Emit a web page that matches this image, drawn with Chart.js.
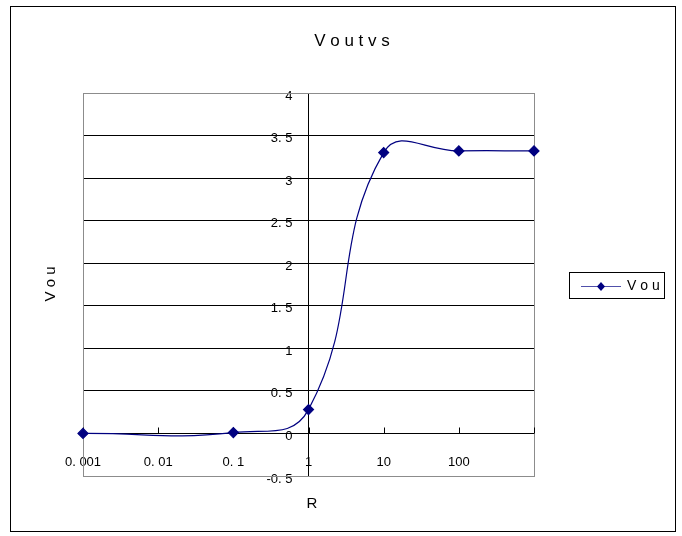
<!DOCTYPE html>
<html lang="en">
<head>
    <meta charset="UTF-8">
    <title>Vout vs R</title>
    <script src="https://cdn.jsdelivr.net/npm/chart.js"></script>
    <style>
        body { margin: 0; background: #fff; }
    </style>
</head>
<body>
    <canvas id="voutChart" width="682" height="536"></canvas>

    <script>
// values
const rValues = [0.001, 0.1, 1, 10, 100, 1000];
const vouValues = [0, 0.01, 0.28, 3.3, 3.32, 3.32];

// axis ticks
const xTickValues = [0.001, 0.01, 0.1, 1, 10, 100, 1000];
const xTickLabels = ['0. 001', '0. 01', '0. 1', '1', '10', '100', ''];
const yTickLabels = ['-0. 5', '0', '0. 5', '1', '1. 5', '2', '2. 5', '3', '3. 5', '4'];

const chartTitle = 'V o u t v s';
const yTitle = 'V o u';
const xTitle = 'R';
const seriesName = 'V o u';

const FONT = '"Liberation Sans", Arial, sans-serif';

// draws the frame, the titles, the legend and the small inside ticks
const excelFrame = {
    id: 'excelFrame',
    afterLayout(chart) {
        // the value axis crosses the category axis at R = 1
        const px = chart.scales.x.getPixelForValue(1);
        chart.scales.y.left = px - 80;
        chart.scales.y.right = px;
    },
    beforeDraw(chart) {
        const c = chart.ctx;
        c.save();
        c.fillStyle = '#fff';
        c.fillRect(0, 0, chart.width, chart.height);
        c.strokeStyle = '#000';
        c.lineWidth = 1;
        c.strokeRect(10.5, 6.5, 665, 525);

        c.fillStyle = '#000';
        c.textAlign = 'center';
        c.textBaseline = 'middle';
        c.font = '17px ' + FONT;
        c.fillText(chartTitle, 352, 41);

        c.font = '15px ' + FONT;
        c.fillText(xTitle, 312, 504);
        c.save();
        c.translate(51, 284);
        c.rotate(-Math.PI / 2);
        c.fillText(yTitle, 0, 0);
        c.restore();

        // legend
        c.strokeRect(569.5, 272.5, 95, 26);
        c.strokeStyle = '#5050aa';
        c.beginPath();
        c.moveTo(581, 286.5);
        c.lineTo(621, 286.5);
        c.stroke();
        c.fillStyle = '#000080';
        c.beginPath();
        c.moveTo(601, 282);
        c.lineTo(605, 286.5);
        c.lineTo(601, 291);
        c.lineTo(597, 286.5);
        c.closePath();
        c.fill();
        c.fillStyle = '#000';
        c.textAlign = 'left';
        c.font = '14px ' + FONT;
        c.fillText(seriesName, 627, 286);
        c.restore();
    },
    beforeDatasetsDraw(chart) {
        const c = chart.ctx;
        const a = chart.chartArea;
        const xs = chart.scales.x;
        const ys = chart.scales.y;
        c.save();
        c.strokeStyle = '#8c8c8c';
        c.lineWidth = 1;
        c.strokeRect(Math.round(a.left) + 0.5, Math.round(a.top) + 0.5,
                     Math.round(a.right - a.left), Math.round(a.bottom - a.top));
        // x axis ticks point up into the plot
        const y0 = Math.round(ys.getPixelForValue(0)) + 0.5;
        c.strokeStyle = '#000';
        c.beginPath();
        xTickValues.forEach(v => {
            const px = Math.round(xs.getPixelForValue(v)) + 0.5;
            c.moveTo(px, y0);
            c.lineTo(px, y0 - 6);
        });
        c.stroke();
        c.restore();
    }
};

const ctx = document.getElementById('voutChart').getContext('2d');
const chart = new Chart(ctx, {
    type: 'line',
    data: {
        datasets: [{
            label: seriesName,
            data: rValues.map((r, i) => ({ x: r, y: vouValues[i] })),
            borderColor: '#000080',
            borderWidth: 1.2,
            backgroundColor: '#000080',
            pointStyle: 'rectRot',
            pointRadius: 5,
            pointHoverRadius: 5,
            pointBackgroundColor: '#000080',
            pointBorderColor: '#000080',
            tension: 0.45,
            fill: false,
            clip: false,
        }],
    },
    options: {
        responsive: false,
        animation: false,
        layout: {
            padding: { left: 83, top: 93, right: 148, bottom: 60 },
        },
        plugins: {
            legend: { display: false },
            title: { display: false },
            tooltip: { enabled: false },
        },
        scales: {
            x: {
                type: 'logarithmic',
                min: 0.001,
                max: 1000,
                position: { y: 0 },
                afterBuildTicks(scale) {
                    scale.ticks = xTickValues.map(v => ({ value: v }));
                },
                afterFit(scale) { scale.height = 0; },
                ticks: {
                    autoSkip: false,
                    maxRotation: 0,
                    color: '#000',
                    font: { family: FONT, size: 13 },
                    padding: 21,
                    callback: (v, i) => xTickLabels[i],
                },
                grid: { drawOnChartArea: false, drawTicks: false },
                border: { color: '#000', width: 1 },
            },
            y: {
                type: 'linear',
                min: -0.5,
                max: 4,
                position: 'left',
                afterFit(scale) { scale.width = 0; },
                ticks: {
                    stepSize: 0.5,
                    color: '#000',
                    font: { family: FONT, size: 13 },
                    padding: 11,
                    labelOffset: 3,
                    callback: (v, i) => yTickLabels[i],
                },
                grid: { color: '#000', lineWidth: 1, tickLength: 5 },
                border: { color: '#000', width: 1 },
            },
        },
    },
    plugins: [excelFrame],
});
    </script>
</body>
</html>
